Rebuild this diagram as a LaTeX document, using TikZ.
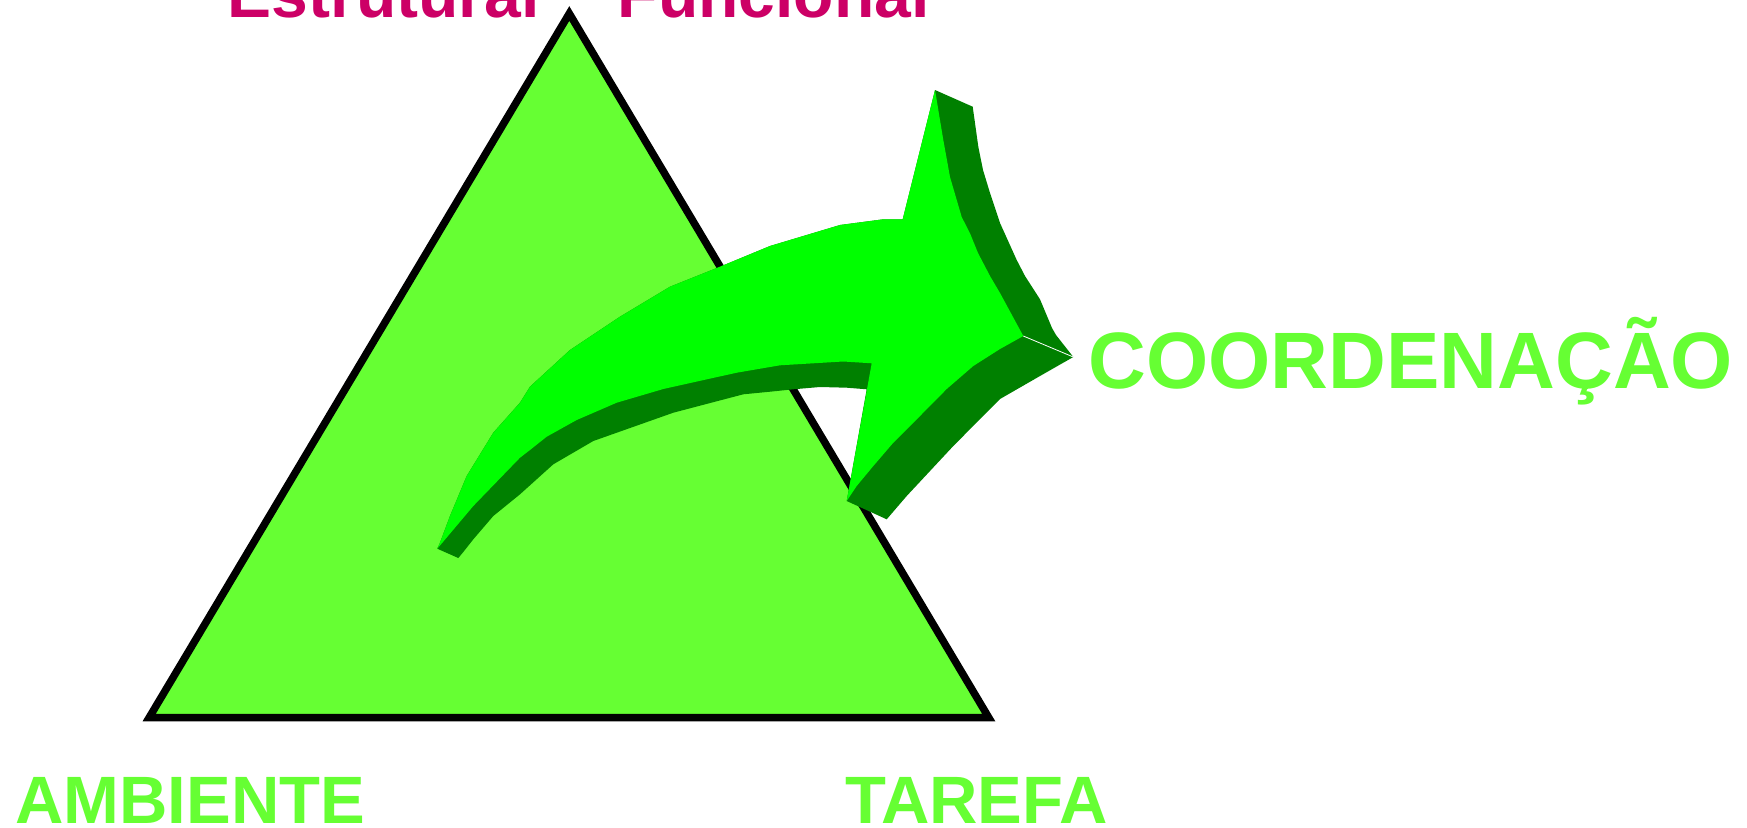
\documentclass[tikz,border=0pt]{standalone}
\usepackage{fontspec}
\setmainfont{Liberation Sans}
\definecolor{trigreen}{RGB}{102,255,51}
\definecolor{brightgreen}{RGB}{0,255,0}
\definecolor{darkgreen}{RGB}{0,128,0}
\definecolor{magentatxt}{RGB}{204,0,102}
\tikzset{
  toptext/.style={anchor=base west, inner sep=0pt, text=magentatxt, font=\bfseries\fontsize{66}{66}\selectfont},
  cornertext/.style={anchor=base west, inner sep=0pt, text=trigreen, font=\bfseries\fontsize{67}{67}\selectfont},
  sidetext/.style={anchor=base west, inner sep=0pt, text=trigreen, font=\bfseries\fontsize{80}{80}\selectfont},
  triangleshape/.style={draw=black, line width=7.5pt, fill=trigreen, miter limit=10},
  arrowside/.style={fill=darkgreen, draw=none},
  arrowface/.style={fill=brightgreen, draw=none}
}
\begin{document}
\begin{tikzpicture}[x=1pt,y=-1pt]
\useasboundingbox (0,0) rectangle (1747,827);
% triangle
\draw[triangleshape] (569.3,13.5) -- (988.7,717.5) -- (149.2,717.5) -- cycle;
% arrow: dark silhouette
\fill[arrowside] (437.3,548.7) -- (440,542.7) -- (450,516) -- (466.7,476) -- (493.3,432.7) -- (520,402.7) -- (530,386.7) -- (570,350) -- (620,316.7) -- (670,286.7) -- (720,266.7) -- (770,246) -- (840,225) -- (883.3,219.3) -- (902.7,219.3) -- (935,90) -- (972.7,106.7) -- (978.3,146.7) -- (983,170) -- (990,193) -- (1000,223) -- (1016.7,260) -- (1025,276) -- (1040,299.3) -- (1052,328) -- (1056,335) -- (1073.3,357) -- (1040,376) -- (1000,399) -- (953.3,446) -- (906.7,496) -- (886.7,519.3) -- (846.7,501) -- (866.7,389.3) -- (846.7,387.7) -- (820,387) -- (793.3,389.3) -- (770,391.7) -- (743.3,394.3) -- (673.3,412.7) -- (593.3,441) -- (553.3,464.3) -- (520,494.3) -- (493.3,516) -- (473.3,539.3) -- (463.3,552) -- (458.3,558) -- cycle;
% arrow: bright face
\fill[arrowface] (437.3,548.7) -- (440,542.7) -- (450,516) -- (466.7,476) -- (493.3,432.7) -- (520,402.7) -- (530,386.7) -- (570,350) -- (620,316.7) -- (670,286.7) -- (720,266.7) -- (770,246) -- (840,225) -- (883.3,219.3) -- (902.7,219.3) -- (935,90) -- (943.3,140) -- (950,177) -- (961.7,217) -- (970,233.3) -- (978,253) -- (990,276) -- (1000,293) -- (1023.3,336) -- (1000,349) -- (973.3,366) -- (946.7,389) -- (920,416) -- (893.3,442.7) -- (873.3,466) -- (856.7,486) -- (846.7,501) -- (871.7,363.3) -- (843.3,361.5) -- (780,365.3) -- (736.7,372.7) -- (663.3,389) -- (616.7,402.7) -- (576.7,420) -- (546.7,436.7) -- (530,450) -- (520,457.7) -- (473.3,506) -- cycle;
% seam
\draw[white, line width=0.8pt] (1023.3,336) -- (1073.3,357);
% texts
\node[toptext] (estrutural) at (227.5,17.5) {Estrutural};
\node[toptext] (funcional) at (617.5,17.5) {Funcional};
\node[sidetext] (coord) at (1088.5,388) {COORDENAÇÃO};
\node[cornertext] (ambiente) at (15,823) {AMBIENTE};
\node[cornertext] (tarefa) at (845,823) {TAREFA};
\end{tikzpicture}
\end{document}
